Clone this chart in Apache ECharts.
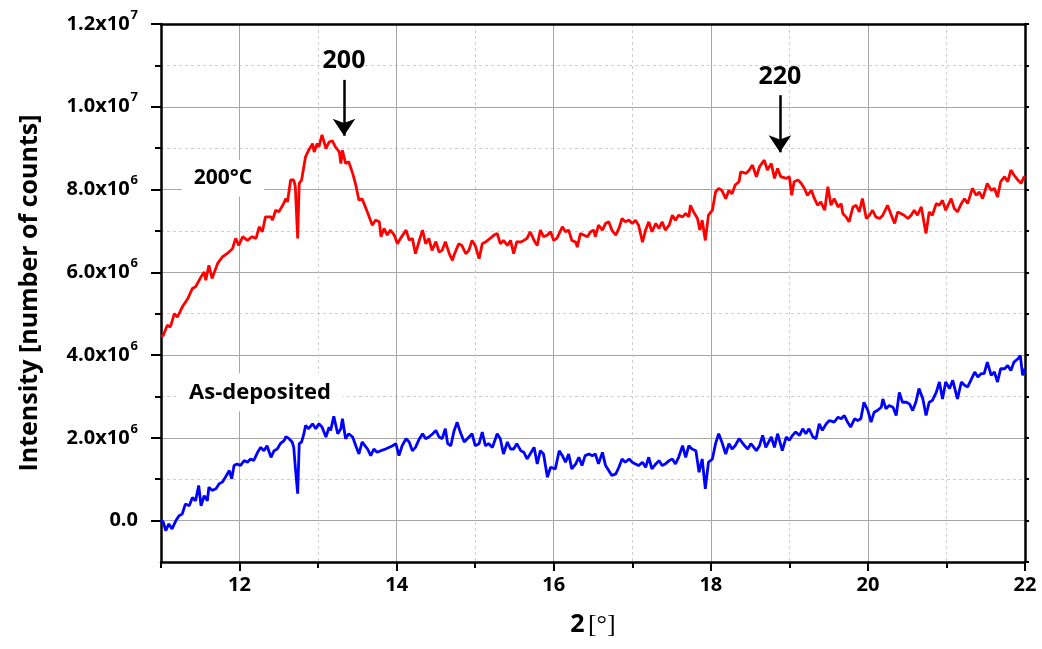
<!DOCTYPE html>
<html>
<head>
<meta charset="utf-8">
<script src="https://cdn.jsdelivr.net/npm/echarts@6/dist/echarts.min.js"></script>
<style>
html,body{margin:0;padding:0;background:#fff;}
#chart{width:1042px;height:649px;}
</style>
</head>
<body>
<div id="chart"></div>
<script>
// 2theta (deg) and intensity (in units of 10^6 counts)
const redTheta = [11.00,11.03,11.08,11.12,11.17,11.21,11.27,11.34,11.40,11.44,11.51,11.55,11.57,11.61,11.65,11.72,11.78,11.84,11.91,11.95,11.99,12.04,12.10,12.16,12.21,12.25,12.29,12.33,12.40,12.42,12.46,12.50,12.55,12.59,12.61,12.65,12.69,12.71,12.74,12.76,12.79,12.84,12.88,12.93,12.95,12.99,13.01,13.05,13.10,13.14,13.18,13.22,13.27,13.29,13.31,13.35,13.39,13.44,13.48,13.52,13.56,13.61,13.65,13.69,13.73,13.78,13.80,13.84,13.88,13.92,13.97,14.01,14.05,14.12,14.16,14.20,14.24,14.29,14.33,14.37,14.41,14.45,14.50,14.54,14.58,14.62,14.67,14.71,14.73,14.79,14.83,14.88,14.92,14.96,15.00,15.05,15.09,15.13,15.19,15.24,15.28,15.32,15.36,15.41,15.45,15.49,15.53,15.58,15.62,15.66,15.70,15.75,15.79,15.83,15.87,15.92,15.96,16.00,16.04,16.11,16.15,16.19,16.23,16.28,16.30,16.34,16.38,16.43,16.47,16.51,16.53,16.57,16.62,16.66,16.70,16.74,16.79,16.83,16.87,16.91,16.96,17.00,17.04,17.08,17.13,17.17,17.21,17.25,17.30,17.34,17.38,17.42,17.47,17.51,17.55,17.59,17.64,17.68,17.72,17.74,17.78,17.83,17.86,17.89,17.93,17.97,18.02,18.06,18.10,18.14,18.19,18.23,18.27,18.31,18.36,18.38,18.45,18.49,18.53,18.58,18.62,18.68,18.72,18.77,18.81,18.85,18.89,18.96,19.00,19.03,19.06,19.11,19.15,19.19,19.23,19.28,19.32,19.36,19.40,19.45,19.49,19.53,19.57,19.62,19.66,19.68,19.72,19.76,19.81,19.85,19.89,19.93,19.98,20.02,20.06,20.10,20.15,20.19,20.25,20.29,20.34,20.38,20.42,20.46,20.51,20.55,20.59,20.63,20.68,20.72,20.74,20.78,20.82,20.87,20.91,20.95,20.99,21.06,21.10,21.14,21.19,21.23,21.27,21.33,21.38,21.42,21.46,21.52,21.57,21.61,21.65,21.69,21.74,21.78,21.82,21.86,21.91,21.95,21.99,22.00];
const redIntensity = [4.45,4.48,4.72,4.68,5.00,4.92,5.16,5.36,5.61,5.65,5.89,6.01,5.81,6.17,5.85,6.21,6.37,6.45,6.57,6.82,6.65,6.86,6.77,6.86,6.82,7.10,6.98,7.34,7.34,7.26,7.50,7.46,7.62,7.78,7.70,8.23,8.23,8.07,6.82,8.15,8.23,8.79,8.95,9.11,8.91,9.11,9.03,9.32,8.99,9.15,9.18,9.03,8.91,8.63,8.95,8.63,8.67,8.39,8.11,7.74,7.78,7.54,7.34,7.14,7.26,7.22,6.86,7.06,6.90,7.02,6.90,6.69,6.82,7.02,6.78,6.82,6.45,6.78,7.02,6.69,6.82,6.53,6.74,6.49,6.53,6.74,6.45,6.29,6.41,6.69,6.65,6.45,6.53,6.77,6.65,6.33,6.69,6.73,6.82,6.90,6.94,6.69,6.77,6.65,6.77,6.45,6.74,6.73,6.77,6.82,6.98,6.77,6.65,7.02,6.86,6.90,6.98,6.77,6.82,7.10,6.98,7.02,6.77,6.73,6.61,6.94,6.90,6.86,6.98,7.02,6.86,7.14,7.02,7.18,7.22,7.02,6.90,7.06,7.30,7.22,7.26,7.18,7.26,7.14,6.73,7.02,7.22,6.98,7.18,7.06,7.22,7.02,7.14,7.38,7.26,7.38,7.34,7.42,7.34,7.62,7.46,7.30,7.02,7.26,6.77,7.38,7.50,7.94,8.03,7.98,7.78,7.98,7.90,8.11,8.19,8.43,8.39,8.47,8.59,8.31,8.55,8.71,8.47,8.63,8.27,8.51,8.31,8.27,8.31,7.86,8.19,8.23,8.15,8.03,7.86,7.98,7.78,7.62,7.70,7.50,8.07,7.62,7.78,7.58,7.66,7.42,7.34,7.22,7.58,7.62,7.46,7.78,7.30,7.38,7.50,7.34,7.30,7.38,7.62,7.42,7.18,7.46,7.42,7.38,7.30,7.38,7.50,7.38,7.58,7.14,6.94,7.46,7.38,7.66,7.62,7.74,7.50,7.78,7.54,7.46,7.66,7.78,7.66,8.03,7.86,7.94,7.78,8.15,7.98,8.03,7.82,8.19,8.31,8.19,8.47,8.35,8.23,8.15,8.31,8.29];

const blueTheta = [11.00,11.03,11.06,11.10,11.14,11.19,11.23,11.27,11.31,11.36,11.40,11.44,11.48,11.51,11.55,11.59,11.61,11.65,11.70,11.74,11.78,11.82,11.87,11.90,11.93,11.97,12.01,12.06,12.10,12.14,12.18,12.23,12.27,12.31,12.35,12.40,12.44,12.48,12.52,12.57,12.59,12.63,12.67,12.69,12.71,12.74,12.76,12.79,12.82,12.84,12.88,12.93,12.97,13.01,13.05,13.10,13.14,13.16,13.20,13.25,13.29,13.31,13.35,13.39,13.44,13.48,13.52,13.56,13.63,13.67,13.71,13.75,13.80,13.86,13.95,13.99,14.03,14.07,14.12,14.16,14.20,14.24,14.29,14.33,14.37,14.41,14.46,14.50,14.54,14.58,14.62,14.65,14.69,14.73,14.77,14.81,14.86,14.90,14.96,15.00,15.05,15.09,15.13,15.17,15.22,15.28,15.32,15.36,15.41,15.45,15.49,15.53,15.58,15.62,15.66,15.70,15.75,15.79,15.83,15.87,15.92,15.96,16.02,16.07,16.11,16.15,16.19,16.23,16.28,16.32,16.36,16.40,16.45,16.49,16.53,16.57,16.62,16.66,16.70,16.74,16.79,16.83,16.87,16.91,16.96,17.00,17.04,17.08,17.13,17.17,17.21,17.25,17.30,17.34,17.38,17.42,17.47,17.51,17.55,17.59,17.64,17.68,17.72,17.76,17.81,17.85,17.89,17.93,17.97,18.02,18.06,18.10,18.14,18.19,18.23,18.27,18.31,18.36,18.43,18.47,18.51,18.58,18.62,18.66,18.70,18.77,18.81,18.85,18.91,18.96,19.00,19.04,19.08,19.13,19.17,19.21,19.25,19.30,19.34,19.38,19.42,19.47,19.51,19.57,19.62,19.66,19.70,19.74,19.78,19.83,19.87,19.91,19.95,20.00,20.04,20.08,20.12,20.17,20.19,20.23,20.27,20.32,20.36,20.40,20.44,20.49,20.53,20.57,20.61,20.65,20.70,20.74,20.78,20.82,20.87,20.91,20.95,20.99,21.04,21.08,21.14,21.19,21.23,21.27,21.31,21.36,21.40,21.44,21.48,21.52,21.57,21.61,21.65,21.69,21.74,21.78,21.82,21.86,21.91,21.94,21.97,22.00];
const blueIntensity = [0.02,-0.04,-0.24,-0.08,-0.20,0.00,0.12,0.16,0.40,0.36,0.56,0.48,0.85,0.36,0.60,0.48,0.81,0.73,0.77,0.89,0.93,1.05,1.21,1.01,1.33,1.37,1.33,1.45,1.41,1.49,1.45,1.65,1.77,1.69,1.81,1.53,1.69,1.73,1.86,1.94,2.03,1.98,1.90,1.77,1.29,0.65,1.86,1.90,2.10,2.30,2.22,2.34,2.22,2.34,2.26,2.02,2.26,2.18,2.52,2.10,2.22,2.46,1.98,2.10,2.02,1.81,1.61,1.90,1.73,1.57,1.73,1.65,1.69,1.73,1.81,1.86,1.57,1.81,1.98,1.90,1.69,1.77,1.98,2.10,1.98,2.02,2.10,2.18,2.02,1.98,2.22,1.86,1.81,2.16,2.38,2.14,1.90,1.98,2.10,1.81,1.86,2.14,1.81,1.86,1.77,2.10,1.98,1.61,1.90,1.73,1.73,1.86,1.69,1.65,1.49,1.61,1.77,1.37,1.69,1.61,1.05,1.29,1.25,1.69,1.57,1.41,1.61,1.25,1.37,1.53,1.33,1.57,1.61,1.57,1.61,1.37,1.65,1.33,1.21,1.09,1.13,1.29,1.49,1.41,1.49,1.41,1.37,1.33,1.41,1.29,1.53,1.25,1.37,1.45,1.33,1.37,1.45,1.49,1.37,1.53,1.81,1.53,1.81,1.73,1.69,1.17,1.49,0.77,1.41,1.49,1.86,2.10,1.90,1.61,1.86,1.73,1.81,1.98,1.81,1.73,1.86,1.69,1.81,2.06,1.77,2.02,1.77,2.10,1.69,2.02,1.94,2.06,2.14,2.06,2.22,2.10,2.22,2.02,1.98,2.34,2.18,2.34,2.42,2.38,2.50,2.46,2.54,2.38,2.26,2.46,2.42,2.46,2.86,2.66,2.38,2.62,2.66,2.74,2.94,2.70,2.78,2.74,2.54,3.10,2.86,2.86,2.82,2.66,2.86,3.19,2.94,2.54,2.86,2.90,3.10,3.35,2.94,3.35,3.19,3.39,2.94,3.35,3.27,3.23,3.39,3.59,3.47,3.55,3.55,3.83,3.51,3.59,3.35,3.67,3.67,3.75,3.63,3.83,3.91,3.99,3.51,3.67];

const xMajorTicks = [12, 14, 16, 18, 20, 22];
const xMinorTicks = [11, 13, 15, 17, 19, 21];
const yMajorTicks = [0, 2, 4, 6, 8, 10, 12];
const yMajorLabels = ['0.0', '2.0x10^6', '4.0x10^6', '6.0x10^6', '8.0x10^6', '1.0x10^7', '1.2x10^7'];
const yMinorTicks = [1, 3, 5, 7, 9, 11];
const seriesNames = ['200°C', 'As-deposited'];
const peakNames = ['200', '220'];

const FONT = 'Open Sans';
const redData = redTheta.map((t, i) => [t, redIntensity[i]]);
const blueData = blueTheta.map((t, i) => [t, blueIntensity[i]]);

function yLabel(v) {
  const i = yMajorTicks.indexOf(v);
  if (i < 0) return '';
  return yMajorLabels[i].replace(/\^(\d+)/, '{s|$1}');
}

const chart = echarts.init(document.getElementById('chart'), null, {renderer: 'canvas'});

const axisLineStyle = {color: '#000', width: 2.5};
const majorGrid = {show: true, lineStyle: {color: '#a6a6a6', width: 1, type: 'solid'}};
const minorGrid = {show: true, lineStyle: {color: '#cfcfcf', width: 1, type: [3, 3]}};

const arrowLine = (theta, top, tip, text) => [
  {coord: [theta, top], label: {show: true, position: 'start', formatter: text}},
  {coord: [theta, tip]}
];

chart.setOption({
  animation: false,
  backgroundColor: '#fff',
  grid: {left: 161, right: 17, top: 24, bottom: 87, containLabel: false},
  xAxis: [
    {
      type: 'value', min: 11, max: 22, position: 'bottom',
      axisLine: {show: true, onZero: false, lineStyle: axisLineStyle},
      axisTick: {show: true, inside: false, length: 9, customValues: xMajorTicks, lineStyle: {color: '#000', width: 2}},
      axisLabel: {show: true, customValues: xMajorTicks, margin: 13, color: '#000', fontFamily: FONT, fontWeight: 'bold', fontSize: 20},
      splitLine: majorGrid,
      name: '{b|2} {n|[°]}', nameLocation: 'middle', nameGap: 50,
      nameTextStyle: {rich: {
        b: {fontFamily: FONT, fontWeight: 'bold', fontSize: 25, color: '#000'},
        n: {fontFamily: 'Liberation Serif', fontWeight: 'normal', fontSize: 26, color: '#000'}
      }}
    },
    {
      type: 'value', min: 11, max: 22, position: 'bottom',
      axisLine: {show: false, onZero: false},
      axisTick: {show: true, inside: false, length: 6, customValues: xMinorTicks, lineStyle: {color: '#000', width: 2}},
      axisLabel: {show: false},
      splitLine: minorGrid
    },
    {
      type: 'value', min: 11, max: 22, position: 'top',
      axisLine: {show: true, onZero: false, lineStyle: axisLineStyle},
      axisTick: {show: false}, axisLabel: {show: false}, splitLine: {show: false}
    }
  ],
  yAxis: [
    {
      type: 'value', min: -1, max: 12, position: 'left',
      axisLine: {show: true, onZero: false, lineStyle: axisLineStyle},
      axisTick: {show: true, inside: false, length: 10, customValues: yMajorTicks, lineStyle: {color: '#000', width: 2}},
      axisLabel: {
        show: true, customValues: yMajorTicks, margin: 23, color: '#000',
        fontFamily: FONT, fontWeight: 'bold', fontSize: 20,
        formatter: yLabel,
        rich: {s: {fontFamily: FONT, fontWeight: 'bold', fontSize: 13, color: '#000', padding: [0, 0, 18, 1]}}
      },
      splitLine: majorGrid,
      name: 'Intensity [number of counts]', nameLocation: 'middle', nameGap: 119,
      nameTextStyle: {fontFamily: FONT, fontWeight: 'bold', fontSize: 25, color: '#000'}
    },
    {
      type: 'value', min: -1, max: 12, position: 'left',
      axisLine: {show: false, onZero: false},
      axisTick: {show: true, inside: false, length: 6, customValues: yMinorTicks, lineStyle: {color: '#000', width: 2}},
      axisLabel: {show: false},
      splitLine: minorGrid
    },
    {
      type: 'value', min: -1, max: 12, interval: 1, position: 'right',
      axisLine: {show: true, onZero: false, lineStyle: axisLineStyle},
      axisTick: {show: true, inside: false, length: 4, lineStyle: {color: '#000', width: 2}},
      axisLabel: {show: false}, splitLine: {show: false}
    }
  ],
  series: [
    {
      name: seriesNames[0], type: 'line', data: redData, xAxisIndex: 0, yAxisIndex: 0,
      symbol: 'none', lineStyle: {color: '#ff0000', width: 2.8}, z: 5,
      markPoint: {
        silent: true, symbolSize: 0,
        data: [{coord: [11.79, 8.27], value: seriesNames[0]}],
        label: {show: true, position: 'inside', formatter: seriesNames[0], color: '#000',
          fontFamily: FONT, fontWeight: 'bold', fontSize: 21, backgroundColor: '#fff', padding: [8, 12]}
      },
      markLine: {
        silent: true, symbol: ['none', 'arrow'], symbolSize: 17,
        lineStyle: {color: '#000', width: 2.5, type: 'solid', opacity: 1},
        itemStyle: {color: '#000'},
        label: {show: true, position: 'start', distance: 6, color: '#000', fontFamily: FONT, fontWeight: 'bold', fontSize: 25},
        data: [arrowLine(13.33, 10.65, 9.3, peakNames[0]), arrowLine(18.88, 10.28, 8.9, peakNames[1])]
      }
    },
    {
      name: seriesNames[1], type: 'line', data: blueData, xAxisIndex: 0, yAxisIndex: 0,
      symbol: 'none', lineStyle: {color: '#0000ff', width: 2.8}, z: 5,
      markPoint: {
        silent: true, symbolSize: 0,
        data: [{coord: [12.26, 3.1], value: seriesNames[1]}],
        label: {show: true, position: 'inside', formatter: seriesNames[1], color: '#000',
          fontFamily: FONT, fontWeight: 'bold', fontSize: 22, backgroundColor: '#fff', padding: [8, 12]}
      }
    }
  ]
});
</script>
</body>
</html>
